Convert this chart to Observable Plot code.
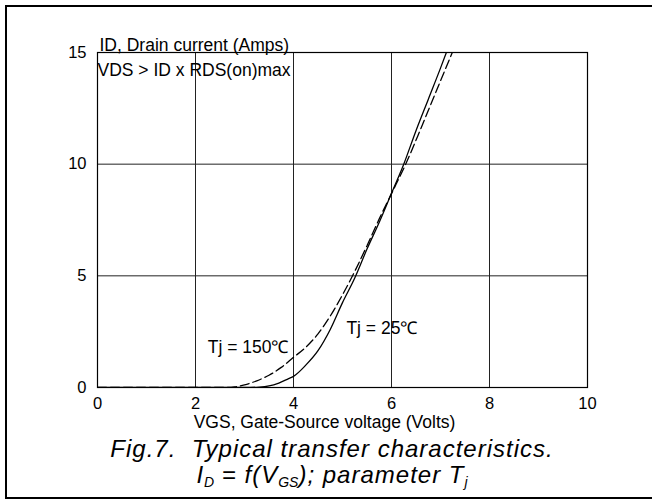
<!DOCTYPE html>
<html>
<head>
<meta charset="utf-8">
<script src="https://cdn.jsdelivr.net/npm/d3@7"></script>
<script src="https://cdn.jsdelivr.net/npm/@observablehq/plot@0.6"></script>
<style>
  html, body { margin: 0; padding: 0; background: #fff; }
  #page { position: relative; width: 652px; height: 500px; overflow: hidden; background: #fff;
          font-family: "Liberation Sans", Arial, sans-serif; }
  #frame { position: absolute; left: 5px; top: 5px; width: 700px; height: 490px;
           border: 2px solid #000; border-right: none; }
  #chart { position: absolute; left: 0; top: 0; }
  #caption { position: absolute; left: 0; top: 436px; width: 664px; text-align: center;
             font-style: italic; font-size: 24px; line-height: 26px; letter-spacing: 1px; color: #000; }
  #caption div { height: 26px; }
  #caption sub { font-size: 14px; letter-spacing: 0; vertical-align: -4px; line-height: 0; }
</style>
</head>
<body>
<div id="page">
  <div id="frame"></div>
  <div id="chart"></div>
  <div id="caption"><div>Fig.7.&nbsp; Typical transfer characteristics.</div><div>I<sub>D</sub> = f(V<sub>GS</sub>); parameter T<sub>j</sub></div></div>
</div>
<script>
// Tj = 25 °C (solid)
const vgs25 = [0, 1, 2, 3, 3.3, 3.5, 3.7, 3.9, 4.0, 4.25, 4.5, 4.75, 5.0, 5.25, 5.5, 5.75, 6.0, 6.25, 6.5, 6.75, 7.0, 7.12];
const id25  = [0, 0, 0, 0, 0.02, 0.07, 0.2, 0.4, 0.5, 1.0, 1.65, 2.6, 3.8, 4.9, 6.2, 7.4, 8.7, 10.0, 11.5, 12.9, 14.3, 15.0];
// Tj = 150 °C (dashed)
const vgs150 = [0, 1, 2, 2.6, 2.8, 3.0, 3.25, 3.5, 3.75, 4.0, 4.25, 4.5, 4.75, 5.0, 5.25, 5.5, 5.75, 6.0, 6.3, 6.6, 6.9, 7.24];
const id150  = [0, 0, 0, 0, 0.03, 0.12, 0.3, 0.55, 0.9, 1.35, 1.8, 2.4, 3.2, 4.15, 5.2, 6.35, 7.55, 8.68, 10.05, 11.6, 13.2, 15.0];

const xTicks = [0, 2, 4, 6, 8, 10];
const yTicks = [0, 5, 10, 15];
const xGrid = [2, 4, 6, 8];
const yGrid = [5, 10];

const curveLabels = ["Tj = 150℃", "Tj = 25℃"];
const curveLabelX = [2.25, 5.08];
const curveLabelY = [1.79, 2.64];

const yTitle = "ID, Drain current (Amps)";
const condition = "VDS > ID x RDS(on)max";
const xTitle = "VGS, Gate-Source voltage (Volts)";

const data25 = vgs25.map((v, i) => ({v, id: id25[i]}));
const data150 = vgs150.map((v, i) => ({v, id: id150[i]}));
const labels = curveLabels.map((t, i) => ({t, x: curveLabelX[i], y: curveLabelY[i]}));

const fs = 17.5;
const chart = Plot.plot({
  width: 652,
  height: 440,
  marginLeft: 97,
  marginRight: 65,
  marginTop: 52,
  marginBottom: 53,
  style: {fontFamily: '"Liberation Sans", Arial, sans-serif', fontSize: "16.5px", color: "#000", background: "transparent"},
  x: {domain: [0, 10], ticks: xTicks, tickSize: 0, tickPadding: 10, label: null},
  y: {domain: [0, 15], ticks: yTicks, tickSize: 0, tickPadding: 11, label: null},
  marks: [
    Plot.ruleX(xGrid, {stroke: "#222", strokeWidth: 1}),
    Plot.ruleY(yGrid, {stroke: "#222", strokeWidth: 1}),
    Plot.frame({stroke: "#000", strokeWidth: 1.2}),
    Plot.line(data150, {x: "v", y: "id", curve: "monotone-x", stroke: "#000", strokeWidth: 1.3, strokeDasharray: "9,4", clip: true}),
    Plot.line(data25, {x: "v", y: "id", curve: "monotone-x", stroke: "#000", strokeWidth: 1.3, clip: true}),
    Plot.text(labels, {x: "x", y: "y", text: "t", textAnchor: "start", lineAnchor: "middle", fontSize: fs, fill: "#000"}),
    Plot.text([yTitle], {frameAnchor: "top-left", textAnchor: "start", lineAnchor: "bottom", dx: 2, dy: -2, fontSize: fs, fill: "#000"}),
    Plot.text([condition], {frameAnchor: "top-left", textAnchor: "start", lineAnchor: "middle", dx: 0, dy: 18, fontSize: fs, fill: "#000"}),
    Plot.text([xTitle], {frameAnchor: "bottom", textAnchor: "middle", lineAnchor: "middle", dx: -18, dy: 35, fontSize: fs, fill: "#000"})
  ]
});
document.getElementById("chart").appendChild(chart);
</script>
</body>
</html>
